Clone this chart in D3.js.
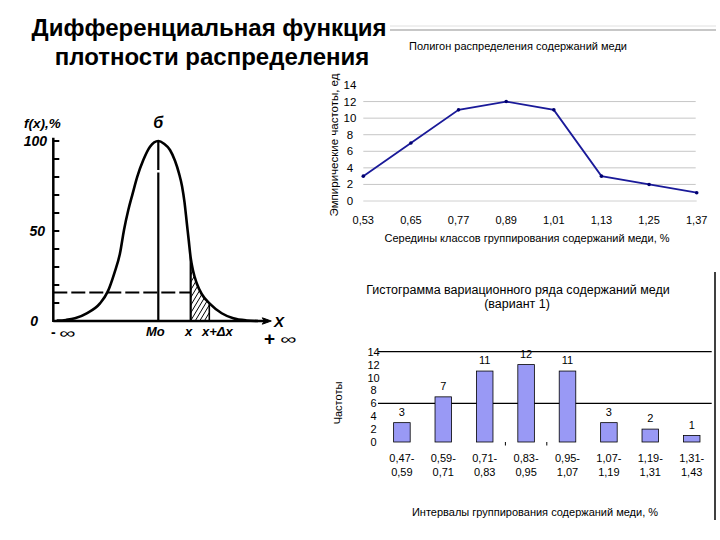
<!DOCTYPE html>
<html><head><meta charset="utf-8">
<script src="https://cdn.jsdelivr.net/npm/d3@7"></script>
<style>
body{margin:0;background:#fff}
text{font-family:"Liberation Sans",Arial,sans-serif;fill:#000}
.hand{font-style:italic;font-weight:bold}
</style>
</head><body>
<svg id="c" width="720" height="540" xmlns="http://www.w3.org/2000/svg"></svg>
<script>
// ---------- data ----------
const classMids = ["0,53","0,65","0,77","0,89","1,01","1,13","1,25","1,37"];
const frequencies = [3,7,11,12,11,3,2,1];
const intervalsFrom = ["0,47-","0,59-","0,71-","0,83-","0,95-","1,07-","1,19-","1,31-"];
const intervalsTo = ["0,59","0,71","0,83","0,95","1,07","1,19","1,31","1,43"];
const freqTicks = [0,2,4,6,8,10,12,14];
const polyGrid = [2,4,6,8,10,12];
const histRules = [14,6];
const histMinorTicks = ["0,83-","0,95-"];
// schematic density curve (arbitrary x units)
const densityX = [3.4,12.7,21.7,33.4,46.7,54.4,61,66.7,70.7,75,79.4,84,90,96.7,105,
                  110.7,116.7,121.7,125.7,128.7,131.2,133.4,135.4,137.4,139.7,143.4,148.4,156.7,168.4,180,193.4,204.7];
const densityF = [0.2,0.6,1.5,4.3,9.8,16.3,26.5,37.6,50.6,61.7,70.9,80.2,89.4,96.8,100,
                  98.5,95,89,82,75,66,55,45,35,28,21,15,9.5,4.3,1.5,0.3,0];
const densityTicks = [10,20,30,40,50,60,70,80,90,100];
const densityLabels = [0,50,100];
const modeX = 105, xPoint = 137.4, xPlusDx = 156, fAtX = 15.8;

const svg = d3.select("#c");
svg.append("rect").attr("width",720).attr("height",540).attr("fill","#fff");

// ---------- title ----------
const T = svg.append("g").attr("font-weight","bold").attr("font-size",24).attr("text-anchor","middle");
T.append("text").attr("x",209).attr("y",36).text("Дифференциальная функция");
T.append("text").attr("x",212).attr("y",65).text("плотности распределения");

// ---------- left schematic ----------
const xL = d3.scaleLinear().domain([0,220]).range([53.3,273.3]);
const yL = d3.scaleLinear().domain([0,100]).range([321,141]);
const L = svg.append("g");
const defs = svg.append("defs");
const area = d3.area().x((d,i)=>xL(densityX[i])).y0(yL(0)).y1(d=>yL(d)).curve(d3.curveMonotoneX);
const line = d3.line().x((d,i)=>xL(densityX[i])).y(d=>yL(d)).curve(d3.curveMonotoneX);
defs.append("clipPath").attr("id","under").append("path").attr("d",area(densityF));
defs.append("clipPath").attr("id","band").append("rect")
  .attr("x",xL(xPoint)).attr("y",yL(101)).attr("width",xL(xPlusDx)-xL(xPoint)).attr("height",yL(0)-yL(101));

// axes
L.append("line").attr("x1",xL(0)).attr("x2",xL(0)).attr("y1",yL(0)+1).attr("y2",yL(101.8))
  .attr("stroke","#000").attr("stroke-width",2.5);
L.append("line").attr("x1",xL(0)).attr("x2",xL(214)).attr("y1",yL(0)).attr("y2",yL(0))
  .attr("stroke","#000").attr("stroke-width",2.5);
L.append("path").attr("d",`M${xL(218)},${yL(0)} L${xL(209)},${yL(0)-3.2} L${xL(211)},${yL(0)} L${xL(209)},${yL(0)+3.2}Z`)
  .attr("fill","#000").attr("stroke","#000").attr("stroke-width",1);
L.selectAll(".tk").data(densityTicks).join("line")
  .attr("x1",xL(0)).attr("x2",xL(0)+6).attr("y1",d=>yL(d)).attr("y2",d=>yL(d))
  .attr("stroke","#000").attr("stroke-width",2);
L.selectAll(".lb").data(densityLabels).join("text").attr("class","hand")
  .attr("font-size",14).attr("text-anchor","end")
  .attr("x",d=> d===0?38:(d===50?45:47)).attr("y",d=>yL(d)+5).text(d=>d);

// dashed level line
L.append("line").attr("x1",xL(0)).attr("x2",xL(xPoint)).attr("y1",yL(fAtX)).attr("y2",yL(fAtX))
  .attr("stroke","#000").attr("stroke-width",2).attr("stroke-dasharray","14,4");
// mode line
L.append("line").attr("x1",xL(modeX)).attr("x2",xL(modeX)).attr("y1",yL(100)).attr("y2",yL(0))
  .attr("stroke","#000").attr("stroke-width",2.2).attr("stroke-dasharray","29,2.5,400");

// hatched strip
const H = L.append("g").attr("clip-path","url(#under)").append("g").attr("clip-path","url(#band)");
const hatchStarts = d3.range(xL(xPoint)-60, xL(xPlusDx)+2, 4.6);
H.selectAll("line").data(hatchStarts).join("line")
  .attr("x1",d=>d).attr("y1",yL(0)).attr("x2",d=>d+0.6*90).attr("y2",yL(0)-90)
  .attr("stroke","#000").attr("stroke-width",1);
const V = L.append("g").attr("clip-path","url(#under)");
[xPoint,xPlusDx].forEach((v,i)=>V.append("line").attr("x1",xL(v)).attr("x2",xL(v))
  .attr("y1",yL(0)).attr("y2",yL(100)).attr("stroke","#000").attr("stroke-width",i?1.6:2.2));

// curve
L.append("path").attr("d",line(densityF)).attr("fill","none").attr("stroke","#000").attr("stroke-width",2.6);

// labels
L.append("text").attr("class","hand").attr("font-size",13.5).attr("x",24).attr("y",128).text("f(x),%");
L.append("text").attr("class","hand").attr("font-size",16).attr("text-anchor","middle").attr("x",xL(modeX)).attr("y",128).text("б");
L.append("text").attr("font-weight","bold").attr("font-size",14).attr("x",51).attr("y",337).text("-");
L.append("text").attr("font-size",14).attr("transform","translate(59,338) scale(1.6,1)").text("∞");
L.append("text").attr("class","hand").attr("font-size",13).attr("text-anchor","middle").attr("x",xL(modeX)-3).attr("y",336).text("Mo");
L.append("text").attr("class","hand").attr("font-size",13).attr("text-anchor","middle").attr("x",xL(xPoint)-2).attr("y",336).text("x");
L.append("text").attr("class","hand").attr("font-size",13).attr("text-anchor","middle").attr("x",xL(xPlusDx)+8).attr("y",336).text("x+Δx");
L.append("text").attr("class","hand").attr("font-size",15).attr("x",274).attr("y",327).text("X");
L.append("text").attr("font-weight","bold").attr("font-size",19).attr("x",264).attr("y",345).text("+");
L.append("text").attr("font-size",14).attr("transform","translate(280,344) scale(1.6,1)").text("∞");

// ---------- polygon chart ----------
svg.append("line").attr("x1",390).attr("x2",716).attr("y1",26).attr("y2",26).attr("stroke","#e0e0e0").attr("stroke-width",1);
svg.append("line").attr("x1",390).attr("x2",716).attr("y1",30).attr("y2",30).attr("stroke","#b4b4b4").attr("stroke-width",1.5);
const xP = d3.scalePoint().domain(classMids).range([363.3,696.7]);
const yP = d3.scaleLinear().domain([0,14]).range([201,85]);
const P = svg.append("g").attr("font-size",11);
P.append("text").attr("x",518).attr("y",49.5).attr("text-anchor","middle").text("Полигон распределения содержаний меди");
P.selectAll(".g").data(polyGrid).join("line")
  .attr("x1",xP.range()[0]).attr("x2",xP.range()[1]-1).attr("y1",d=>yP(d)).attr("y2",d=>yP(d))
  .attr("stroke","#c6c6c6").attr("stroke-width",1);
P.append("line").attr("x1",xP.range()[0]).attr("x2",xP.range()[1]).attr("y1",yP(0)).attr("y2",yP(0))
  .attr("stroke","#d0d0d0").attr("stroke-width",1);
P.selectAll(".yl").data(freqTicks).join("text").attr("text-anchor","middle")
  .attr("x",350).attr("y",d=>yP(d)+4).attr("font-size",11.5).text(d=>d);
P.selectAll(".xl").data(classMids).join("text").attr("text-anchor","middle")
  .attr("x",d=>xP(d)).attr("y",224).text(d=>d);
P.append("text").attr("x",527).attr("y",242).attr("text-anchor","middle").text("Середины классов группирования содержаний меди, %");
P.append("text").attr("transform","translate(338,145) rotate(-90)").attr("text-anchor","middle").attr("font-size",11.5)
  .text("Эмпирические частоты, ед");
P.append("path").attr("d",d3.line().x((d,i)=>xP(classMids[i])).y(d=>yP(d))(frequencies))
  .attr("fill","none").attr("stroke","#1a1a99").attr("stroke-width",1.8);
P.selectAll("circle").data(frequencies).join("circle")
  .attr("cx",(d,i)=>xP(classMids[i])).attr("cy",d=>yP(d)).attr("r",1.8).attr("fill","#000070");

// ---------- histogram ----------
const xH = d3.scaleBand().domain(intervalsFrom).range([381.2,712.4]).paddingInner(0.6).paddingOuter(0.3);
const yH = d3.scaleLinear().domain([0,14]).range([442,351.7]);
const G = svg.append("g").attr("font-size",11);
G.append("text").attr("x",518).attr("y",294).attr("text-anchor","middle").attr("font-size",12.5)
  .text("Гистограмма вариационного ряда содержаний меди");
G.append("text").attr("x",517).attr("y",307.5).attr("text-anchor","middle").attr("font-size",12.5).text("(вариант 1)");
G.selectAll(".r").data(histRules).join("line")
  .attr("x1",378).attr("x2",711.7).attr("y1",d=>yH(d)).attr("y2",d=>yH(d))
  .attr("stroke","#000").attr("stroke-width",1.2);
G.selectAll(".yl").data(freqTicks).join("text").attr("text-anchor","middle")
  .attr("x",373.5).attr("y",d=>yH(d)+4).text(d=>d);
G.selectAll("rect").data(frequencies).join("rect")
  .attr("x",(d,i)=>xH(intervalsFrom[i])).attr("width",xH.bandwidth())
  .attr("y",d=>yH(d)).attr("height",d=>yH(0)-yH(d))
  .attr("fill","#9999f5").attr("stroke","#000").attr("stroke-width",0.8);
G.selectAll(".v").data(frequencies).join("text").attr("text-anchor","middle")
  .attr("x",(d,i)=>xH(intervalsFrom[i])+xH.bandwidth()/2).attr("y",d=>yH(d)-7).text(d=>d);
G.selectAll(".m").data(histMinorTicks).join("line")
  .attr("x1",d=>xH(d)-(xH.step()-xH.bandwidth())/2).attr("x2",d=>xH(d)-(xH.step()-xH.bandwidth())/2)
  .attr("y1",yH(0)).attr("y2",yH(0)+3.5).attr("stroke","#000").attr("stroke-width",1);
G.selectAll(".x1").data(intervalsFrom).join("text").attr("text-anchor","middle")
  .attr("x",d=>xH(d)+xH.bandwidth()/2).attr("y",462).text(d=>d);
G.selectAll(".x2").data(intervalsTo).join("text").attr("text-anchor","middle")
  .attr("x",(d,i)=>xH(intervalsFrom[i])+xH.bandwidth()/2).attr("y",475.5).text(d=>d);
G.append("text").attr("x",535).attr("y",515.5).attr("text-anchor","middle").text("Интервалы группирования содержаний меди, %");
G.append("text").attr("transform","translate(342,403) rotate(-90)").attr("text-anchor","middle").text("Частоты");
svg.append("line").attr("x1",715).attr("x2",715).attr("y1",272).attr("y2",520).attr("stroke","#000").attr("stroke-width",1.5);
</script>
</body></html>
